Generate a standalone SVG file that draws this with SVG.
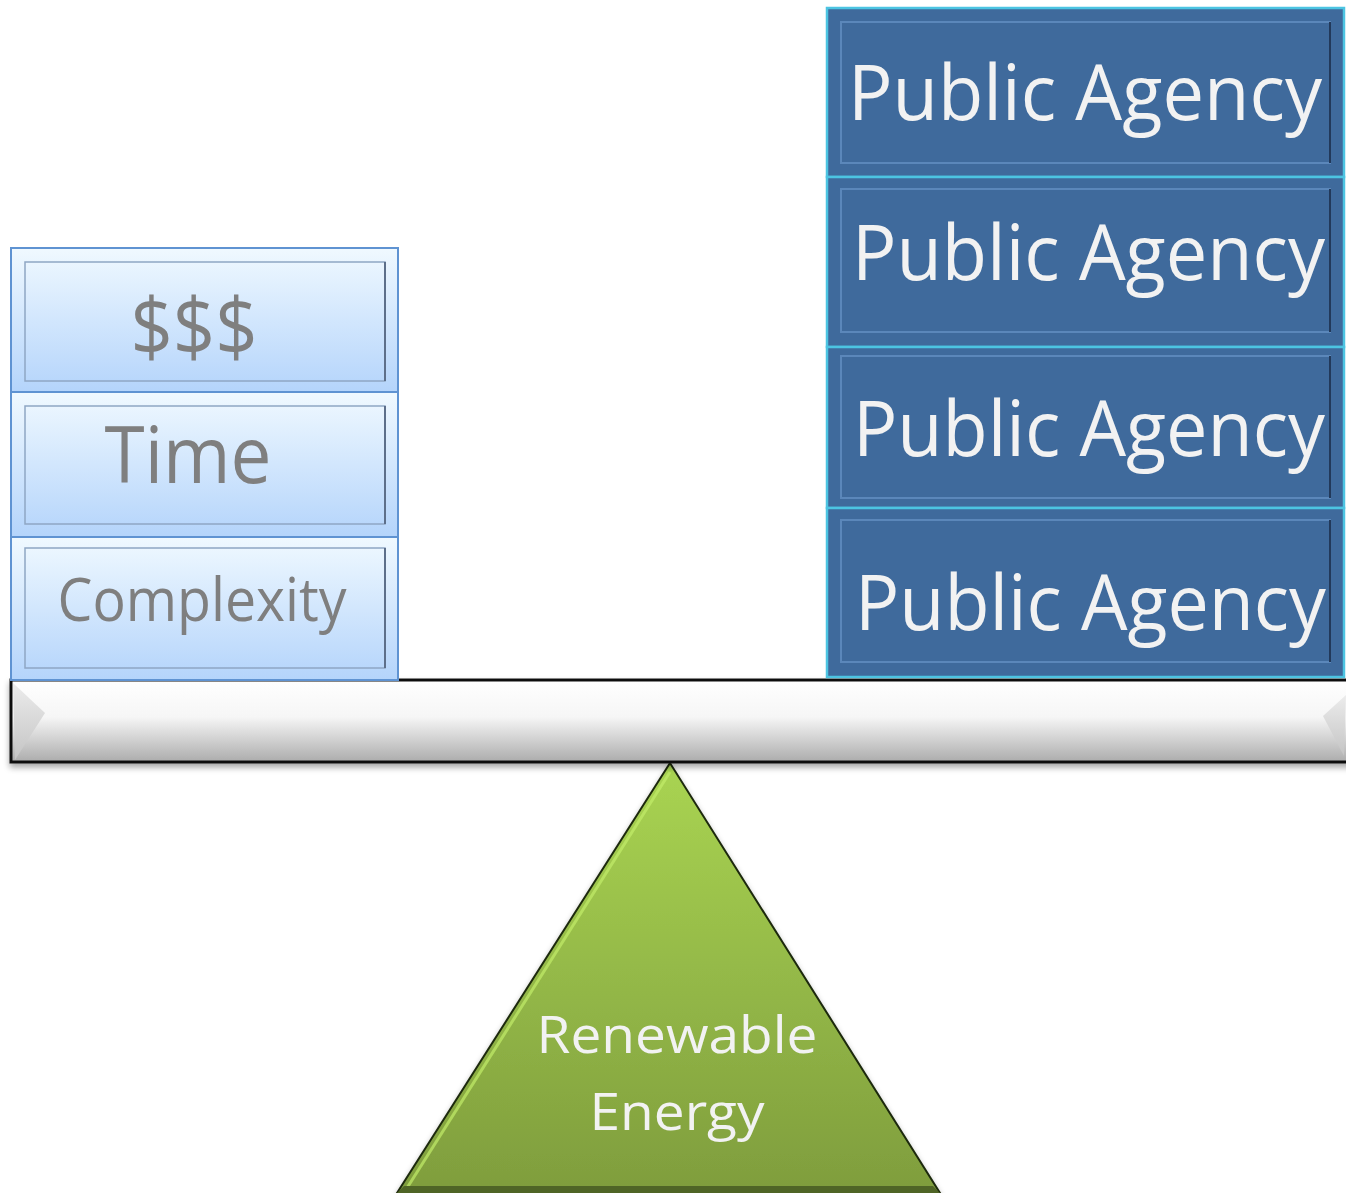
<svg xmlns="http://www.w3.org/2000/svg" width="1346" height="1193" viewBox="0 0 1346 1193">
<defs>
<linearGradient id="lb" x1="0" y1="0" x2="0" y2="1"><stop offset="0" stop-color="#f0f9ff"/><stop offset="1" stop-color="#b4d4fb"/></linearGradient>
<linearGradient id="beam" x1="0" y1="0" x2="0" y2="1"><stop offset="0" stop-color="#ffffff"/><stop offset="0.45" stop-color="#f6f6f6"/><stop offset="1" stop-color="#acacac"/></linearGradient>
<linearGradient id="bev" x1="0" y1="0" x2="0" y2="1"><stop offset="0" stop-color="#ececec"/><stop offset="1" stop-color="#c4c4c4"/></linearGradient>
<linearGradient id="grn" x1="0" y1="0" x2="0" y2="1"><stop offset="0" stop-color="#a9d452"/><stop offset="1" stop-color="#7f9d3d"/></linearGradient>
<filter id="sh" x="-5%" y="-20%" width="110%" height="150%"><feGaussianBlur in="SourceAlpha" stdDeviation="3"/><feOffset dx="0" dy="4"/><feComponentTransfer><feFuncA type="linear" slope="0.35"/></feComponentTransfer><feMerge><feMergeNode/><feMergeNode in="SourceGraphic"/></feMerge></filter>
</defs>
<style>
.lbox{fill:url(#lb);stroke:#5f93d2;stroke-width:2}
.linner{fill:none;stroke:#8fa6c4;stroke-width:1.5}
.linnerd{fill:none;stroke:#5d6f8a;stroke-width:2}
.rbox{fill:#3f6a9c;stroke:#4cc4e2;stroke-width:2.5}
.rinner{fill:none;stroke:#5b87ba;stroke-width:2}
.rinnerd{fill:none;stroke:#22395a;stroke-width:2}
.lt{font-family:"Open Sans","DejaVu Sans",sans-serif;fill:#7f7f7f;text-anchor:middle}
.rt{font-family:"Open Sans","DejaVu Sans",sans-serif;fill:#f2f2f2;font-size:77px}
.gt{font-family:"Open Sans","DejaVu Sans",sans-serif;fill:#f2f2f2;font-size:52px;text-anchor:middle}
</style>
<rect width="1346" height="1193" fill="#ffffff"/>

<g id="fulcrum">
<polygon points="670,763 397,1193 940,1193" fill="url(#grn)" stroke="#1e2a0e" stroke-width="2" filter="url(#sh)"/>
<polyline points="407,1188 670,772" fill="none" stroke="#c2ec6a" stroke-width="3" opacity="0.7"/>
<polygon points="404,1186 933,1186 940,1193 397,1193" fill="#4f6526"/>
<text class="gt" x="677" y="1053" textLength="281" lengthAdjust="spacingAndGlyphs">Renewable</text>
<text class="gt" x="677" y="1130" textLength="175" lengthAdjust="spacingAndGlyphs">Energy</text>
</g>

<g id="beam">
<rect x="11" y="680" width="1340" height="82" fill="url(#beam)" stroke="#111111" stroke-width="3" filter="url(#sh)"/>
<polygon points="13,683 45,713 15,760" fill="url(#bev)"/>
<polygon points="1346,695 1323,716 1344,756" fill="url(#bev)"/>
</g>

<g id="box-money">
<rect class="lbox" x="11" y="248" width="387" height="144"/>
<rect class="linner" x="25" y="262" width="360" height="119"/>
<line class="linnerd" x1="385" y1="262" x2="385" y2="381"/>
<text class="lt" x="194" y="356" font-size="80" textLength="127" lengthAdjust="spacingAndGlyphs">$$$</text>
</g>
<g id="box-time">
<rect class="lbox" x="11" y="392" width="387" height="145"/>
<rect class="linner" x="25" y="406" width="360" height="118"/>
<line class="linnerd" x1="385" y1="406" x2="385" y2="524"/>
<text class="lt" x="188" y="483" font-size="78" textLength="167" lengthAdjust="spacingAndGlyphs">Time</text>
</g>
<g id="box-complexity">
<rect class="lbox" x="11" y="537" width="387" height="143"/>
<rect class="linner" x="25" y="548" width="360" height="120"/>
<line class="linnerd" x1="385" y1="548" x2="385" y2="668"/>
<text class="lt" x="202" y="621" font-size="60" textLength="289" lengthAdjust="spacingAndGlyphs">Complexity</text>
</g>

<g id="agency-1">
<rect class="rbox" x="827" y="8" width="517" height="169"/>
<rect class="rinner" x="841" y="22" width="489" height="141"/>
<line class="rinnerd" x1="1330" y1="22" x2="1330" y2="163"/>
<text class="rt" x="848" y="120" textLength="474" lengthAdjust="spacingAndGlyphs">Public Agency</text>
</g>
<g id="agency-2">
<rect class="rbox" x="827" y="177" width="517" height="170"/>
<rect class="rinner" x="841" y="189" width="489" height="143"/>
<line class="rinnerd" x1="1330" y1="189" x2="1330" y2="332"/>
<text class="rt" x="852" y="280" textLength="473" lengthAdjust="spacingAndGlyphs">Public Agency</text>
</g>
<g id="agency-3">
<rect class="rbox" x="827" y="347" width="517" height="161"/>
<rect class="rinner" x="841" y="356" width="489" height="142"/>
<line class="rinnerd" x1="1330" y1="356" x2="1330" y2="498"/>
<text class="rt" x="853" y="456" textLength="472" lengthAdjust="spacingAndGlyphs">Public Agency</text>
</g>
<g id="agency-4">
<rect class="rbox" x="827" y="508" width="517" height="169"/>
<rect class="rinner" x="841" y="520" width="489" height="142"/>
<line class="rinnerd" x1="1330" y1="520" x2="1330" y2="662"/>
<text class="rt" x="855" y="630" textLength="471" lengthAdjust="spacingAndGlyphs">Public Agency</text>
</g>

<g id="connectors"></g>
</svg>
